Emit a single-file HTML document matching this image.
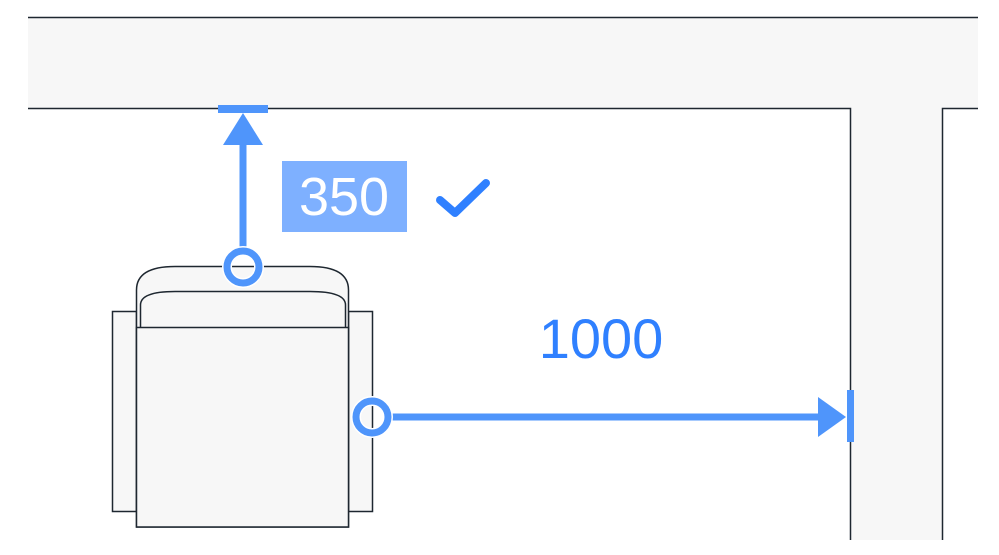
<!DOCTYPE html><html><head><style>body{margin:0;background:#fff}svg{display:block}</style></head><body>
<svg width="999" height="555" xmlns="http://www.w3.org/2000/svg">
<rect x="28" y="17" width="950" height="91" fill="#f7f7f7"/>
<rect x="850" y="108" width="92" height="432" fill="#f7f7f7"/>
<g stroke="#1e2730" stroke-width="1.5" fill="none">
<line x1="28" y1="17.5" x2="978" y2="17.5"/>
<polyline points="28,108.5 850.5,108.5 850.5,540"/>
<polyline points="978,108.5 942.5,108.5 942.5,540"/>
</g>
<g stroke="#1e2730" stroke-width="1.5" fill="#f7f7f7">
<rect x="112.5" y="311.5" width="24" height="200"/>
<rect x="348.5" y="311.5" width="24" height="200"/>
<path d="M136.5,527 V290 Q136.5,266.5 175,266.5 H310 Q348.5,266.5 348.5,290 V527 Z"/>
<path d="M140.5,327 V305 Q140.5,291.5 175,291.5 H310 Q345.5,291.5 345.5,305 V327"/>
<rect x="136.5" y="327.5" width="212" height="199.5"/>
</g>
<g fill="#4f95fb" stroke="#4f95fb">
<line x1="243" y1="145" x2="243" y2="254" stroke-width="7"/>
<polygon points="223,145 263,145 243,113" stroke="none"/>
<rect x="218" y="105" width="50" height="8" stroke="none"/>
<circle cx="243" cy="267" r="16" fill="none" stroke="#fff" stroke-width="10"/>
<circle cx="243" cy="267" r="16" fill="none" stroke-width="7"/>
<line x1="386" y1="417" x2="820" y2="417" stroke-width="7"/>
<polygon points="818,397 818,437 846,417" stroke="none"/>
<rect x="847" y="390" width="7" height="52" stroke="none"/>
<circle cx="372" cy="417" r="16" fill="none" stroke="#fff" stroke-width="10"/>
<circle cx="372" cy="417" r="16" fill="none" stroke-width="7"/>
</g>
<rect x="282" y="161" width="125" height="71" fill="#7eb0ff"/>
<text x="344" y="215" text-anchor="middle" font-family="Liberation Sans, sans-serif" font-size="54" fill="#fff">350</text>
<polyline points="440,200 455,213 486,183" fill="none" stroke="#2f80ff" stroke-width="8" stroke-linecap="round" stroke-linejoin="round"/>
<text x="601" y="358" text-anchor="middle" font-family="Liberation Sans, sans-serif" font-size="56" fill="#2f80ff">1000</text>
</svg>
</body></html>
